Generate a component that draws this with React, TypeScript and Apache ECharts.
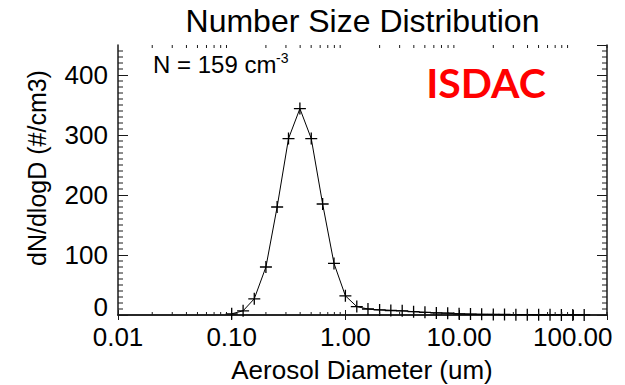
import React, { useEffect, useRef } from "react";
import * as echarts from "echarts";

// Data
const diameters = [0.1, 0.126, 0.158, 0.2, 0.251, 0.316, 0.398, 0.501, 0.631, 0.794, 1.0, 1.26, 1.58, 2.0, 2.51, 3.16, 3.98, 5.01, 6.31, 7.94, 10.0, 12.6, 15.8, 20.0, 25.1, 31.6, 39.8, 50.1, 63.1, 79.4, 100, 126];
const dNdlogD = [2, 7, 27, 80, 180, 294, 344, 294, 185, 86, 32, 14, 10, 8.5, 7.5, 7, 5.5, 4.5, 3.5, 3, 2, 1.5, 1.2, 1, 0.8, 0.6, 0.5, 0.4, 0.3, 0.2, 0.2, 0.1];
const xMinorTicks = [0.02, 0.03, 0.04, 0.05, 0.06, 0.07, 0.08, 0.09, 0.2, 0.3, 0.4, 0.5, 0.6, 0.7, 0.8, 0.9, 2, 3, 4, 5, 6, 7, 8, 9, 20, 30, 40, 50, 60, 70, 80, 90, 200];
const yMinorTicks = [10, 20, 30, 40, 50, 60, 70, 80, 90, 110, 120, 130, 140, 150, 160, 170, 180, 190, 210, 220, 230, 240, 250, 260, 270, 280, 290, 310, 320, 330, 340, 350, 360, 370, 380, 390, 410, 420, 430, 440];
const titleText = "Number Size Distribution";
const xTitle = "Aerosol Diameter (um)";
const yTitle = "dN/dlogD (#/cm3)";
const countText = "N = 159 cm";
const countSup = "-3";
const campaign = "ISDAC";

const FONT = "'Liberation Sans', Arial, Helvetica, sans-serif";
const AXIS_COLOR = "#1a1a1a";

export default function App() {
  const ref = useRef<HTMLDivElement>(null);
  useEffect(() => {
    if (!ref.current) return;
    const chart = echarts.init(ref.current, undefined, { renderer: "svg" });
    const axisLine = { show: true, lineStyle: { color: AXIS_COLOR, width: 1.5 } };
    const option: any = {
      animation: false,
      backgroundColor: "#fff",
      grid: { left: 118, top: 45, width: 489, height: 270 },
      xAxis: [
        {
          type: "log",
          logBase: 10,
          min: 0.01,
          max: 200,
          position: "bottom",
          axisLine,
          axisTick: { show: true, inside: true, length: 5, lineStyle: { color: AXIS_COLOR, width: 1 } },
          axisLabel: {
            show: true,
            showMaxLabel: false,
            margin: 9,
            color: "#000",
            fontSize: 26,
            fontFamily: FONT,
            formatter: (v: number) => Number(v).toFixed(2),
          },
          splitLine: { show: false },
        },
        {
          type: "log",
          logBase: 10,
          min: 0.01,
          max: 200,
          position: "top",
          axisLine,
          axisTick: { show: true, inside: true, length: 5, lineStyle: { color: AXIS_COLOR, width: 1 } },
          axisLabel: { show: false },
          splitLine: { show: false },
        },
      ],
      yAxis: [
        {
          type: "value",
          min: 0,
          max: 450,
          interval: 100,
          position: "left",
          axisLine,
          axisTick: { show: true, inside: true, length: 10, lineStyle: { color: AXIS_COLOR, width: 1 } },
          axisLabel: {
            show: true,
            showMaxLabel: false,
            margin: 10,
            color: "#000",
            fontSize: 26,
            fontFamily: FONT,
            formatter: (v: number) => (v === 0 ? "{z|0}" : String(v)),
            rich: {
              z: { fontSize: 26, fontFamily: FONT, color: "#000", padding: [0, 0, 16, 0] },
            },
          },
          splitLine: { show: false },
        },
        {
          type: "value",
          min: 0,
          max: 450,
          interval: 100,
          position: "right",
          axisLine,
          axisTick: { show: true, inside: true, length: 10, lineStyle: { color: AXIS_COLOR, width: 1 } },
          axisLabel: { show: false },
          splitLine: { show: false },
        },
      ],
      series: [
        {
          type: "line",
          xAxisIndex: 0,
          yAxisIndex: 0,
          data: diameters.map((d, i) => [d, dNdlogD[i]]),
          lineStyle: { color: "#000", width: 1 },
          symbol: "path://M0,6L12,6M6,0L6,12",
          symbolSize: 12,
          showSymbol: true,
          itemStyle: { color: "none", borderColor: "#000", borderWidth: 1.3 },
          z: 3,
        },
        {
          type: "custom",
          xAxisIndex: 0,
          yAxisIndex: 0,
          silent: true,
          data: xMinorTicks.map((v) => [v, 0]),
          renderItem: (params: any, api: any) => {
            const cs = params.coordSys;
            const px = api.coord([api.value(0), 0])[0];
            const bottom = cs.y + cs.height;
            const top = cs.y;
            const st = { stroke: AXIS_COLOR, lineWidth: 1 };
            return {
              type: "group",
              children: [
                { type: "line", shape: { x1: px, y1: bottom, x2: px, y2: bottom - 3 }, style: st },
                { type: "line", shape: { x1: px, y1: top, x2: px, y2: top + 3 }, style: st },
              ],
            };
          },
          z: 4,
        },
        {
          type: "custom",
          xAxisIndex: 0,
          yAxisIndex: 0,
          silent: true,
          data: yMinorTicks.map((v) => [1, v]),
          renderItem: (params: any, api: any) => {
            const cs = params.coordSys;
            const py = api.coord([1, api.value(1)])[1];
            const left = cs.x;
            const right = cs.x + cs.width;
            const st = { stroke: AXIS_COLOR, lineWidth: 1 };
            return {
              type: "group",
              children: [
                { type: "line", shape: { x1: left, y1: py, x2: left + 5, y2: py }, style: st },
                { type: "line", shape: { x1: right, y1: py, x2: right - 5, y2: py }, style: st },
              ],
            };
          },
          z: 4,
        },
      ],
      graphic: [
        {
          type: "text",
          x: 362.5,
          y: 21,
          style: { text: titleText, fill: "#000", font: `32px ${FONT}`, align: "center", verticalAlign: "middle" },
        },
        {
          type: "text",
          x: 362,
          y: 370,
          style: { text: xTitle, fill: "#000", font: `26px ${FONT}`, align: "center", verticalAlign: "middle" },
        },
        {
          type: "text",
          x: 37,
          y: 168,
          rotation: Math.PI / 2,
          style: { text: yTitle, fill: "#000", font: `25px ${FONT}`, align: "center", verticalAlign: "middle" },
        },
        {
          type: "text",
          x: 153,
          y: 64,
          style: { text: countText, fill: "#000", font: `24px ${FONT}`, align: "left", verticalAlign: "middle" },
        },
        {
          type: "text",
          x: 276,
          y: 58,
          style: { text: countSup, fill: "#000", font: `14px ${FONT}`, align: "left", verticalAlign: "middle" },
        },
        {
          type: "text",
          x: 486,
          y: 82,
          style: { text: campaign, fill: "#ff0000", font: `bold 41px Lato, 'Open Sans', sans-serif`, align: "center", verticalAlign: "middle" },
        },
      ],
    };
    chart.setOption(option);
    return () => chart.dispose();
  }, []);
  return <div ref={ref} style={{ width: 625, height: 385, position: "absolute", left: 0, top: 0 }} />;
}
